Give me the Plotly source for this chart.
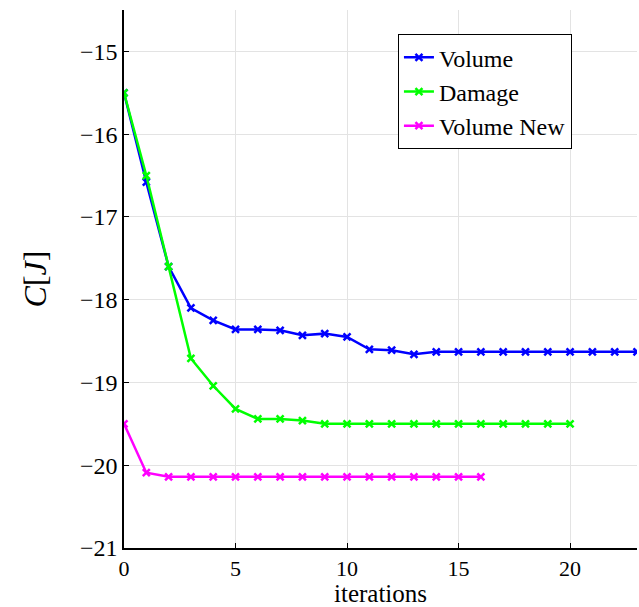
import plotly.graph_objects as go

# Cost per iteration for each strategy
iters_volume = list(range(0, 24))
cost_volume = [-15.5, -16.58, -17.6, -18.1, -18.25, -18.36, -18.36, -18.37,
               -18.43, -18.41, -18.45, -18.6, -18.61, -18.66, -18.63, -18.63,
               -18.63, -18.63, -18.63, -18.63, -18.63, -18.63, -18.63, -18.63]

iters_damage = list(range(0, 21))
cost_damage = [-15.5, -16.5, -17.6, -18.71, -19.04, -19.32, -19.44, -19.44,
               -19.46, -19.5, -19.5, -19.5, -19.5, -19.5, -19.5, -19.5,
               -19.5, -19.5, -19.5, -19.5, -19.5]

iters_vnew = list(range(0, 17))
cost_vnew = [-19.5, -20.09, -20.14, -20.14, -20.14, -20.14, -20.14, -20.14,
             -20.14, -20.14, -20.14, -20.14, -20.14, -20.14, -20.14, -20.14,
             -20.14]

x_ticks = [0, 5, 10, 15, 20]
y_ticks = [-21, -20, -19, -18, -17, -16, -15]

series = [
    ("Volume", iters_volume, cost_volume, "#0000ff"),
    ("Damage", iters_damage, cost_damage, "#00ff00"),
    ("Volume New", iters_vnew, cost_vnew, "#ff00ff"),
]

serif = "Liberation Serif"

fig = go.Figure()
for name, xs, ys, color in series:
    fig.add_trace(go.Scatter(
        x=xs, y=ys, name=name, mode="lines+markers",
        line=dict(color=color, width=2.5),
        marker=dict(symbol="x-thin", size=7, color=color,
                    line=dict(color=color, width=2.5)),
    ))

fig.update_layout(
    width=639, height=607,
    margin=dict(l=124, r=2, t=10, b=57),
    paper_bgcolor="white", plot_bgcolor="white",
    font=dict(family=serif, size=22, color="black"),
    showlegend=True,
    legend=dict(
        x=0.534, y=0.955, xanchor="left", yanchor="top",
        bgcolor="white", bordercolor="black", borderwidth=1,
        font=dict(family=serif, size=24, color="black"),
        tracegroupgap=0, itemwidth=30,
    ),
    xaxis=dict(
        range=[0, 23], tickvals=x_ticks, ticktext=[str(v) for v in x_ticks],
        showgrid=True, gridcolor="#e3e3e3", gridwidth=1,
        showline=True, linecolor="black", linewidth=1.5,
        ticks="inside", ticklen=5, tickcolor="black", zeroline=False,
        tickfont=dict(family=serif, size=22, color="black"),
        title=dict(text="iterations", font=dict(family=serif, size=25, color="black"),
                   standoff=6),
    ),
    yaxis=dict(
        range=[-21, -14.5], tickvals=y_ticks,
        ticktext=["\u2212" + str(abs(v)) for v in y_ticks],
        showgrid=True, gridcolor="#e3e3e3", gridwidth=1,
        showline=True, linecolor="black", linewidth=1.5,
        ticks="inside", ticklen=5, tickcolor="black", zeroline=False,
        tickfont=dict(family=serif, size=24, color="black"),
        title=dict(text="<i>C</i>[<i>J</i>]",
                   font=dict(family=serif, size=32, color="black"), standoff=24),
    ),
)

fig.write_html("out.html")
